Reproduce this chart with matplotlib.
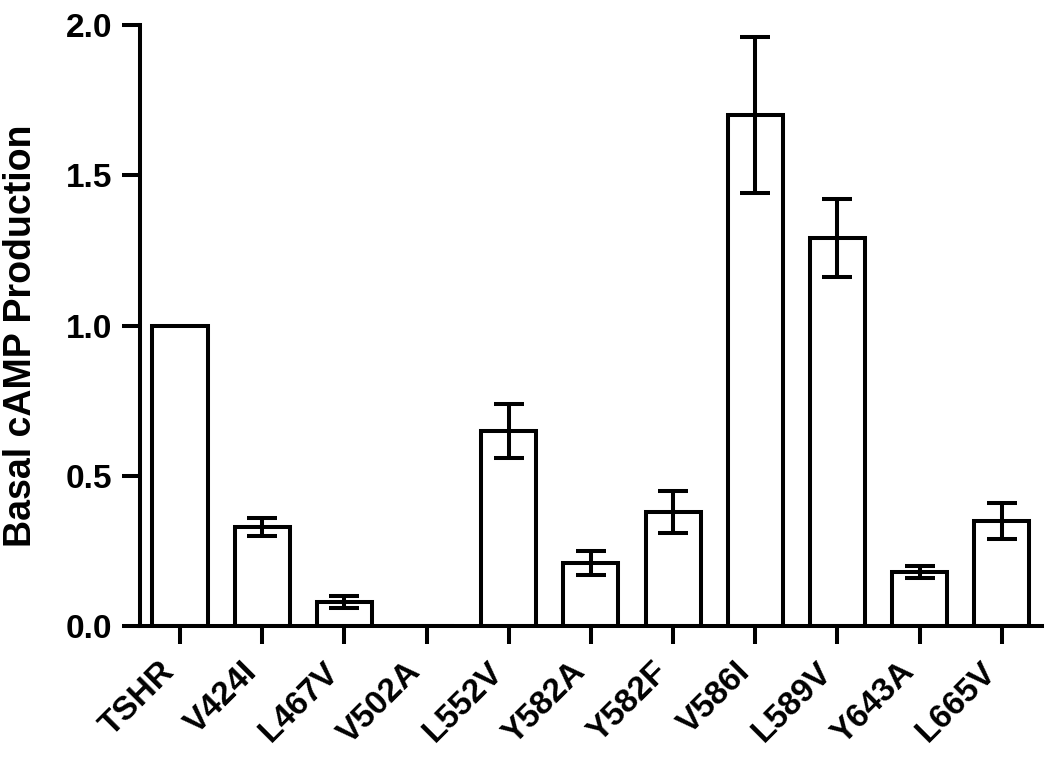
import matplotlib
matplotlib.use('Agg')
import matplotlib.pyplot as plt
from matplotlib.transforms import ScaledTranslation

mutants = ['TSHR', 'V424I', 'L467V', 'V502A', 'L552V', 'Y582A',
           'Y582F', 'V586I', 'L589V', 'Y643A', 'L665V']
basal = [1.00, 0.33, 0.08, 0.0, 0.65, 0.21, 0.38, 1.70, 1.29, 0.18, 0.35]
sem = [0.0, 0.03, 0.02, 0.0, 0.09, 0.04, 0.07, 0.26, 0.13, 0.02, 0.06]

plt.rcParams['font.family'] = ['Liberation Sans', 'DejaVu Sans']
plt.rcParams['font.weight'] = 'bold'

LW = 2.9


def make_graph():
    fig = plt.figure(figsize=(10.5, 7.65), dpi=100)
    ax = fig.add_axes([0.1333, 0.1817, 0.8591, 0.7856])
    x = range(len(mutants))
    ax.bar(x, basal, width=0.67, color='white', edgecolor='black',
           linewidth=LW, zorder=2)
    err_idx = [i for i in x if sem[i] > 0]
    ax.errorbar(err_idx, [basal[i] for i in err_idx],
                yerr=[sem[i] for i in err_idx], fmt='none', ecolor='black',
                elinewidth=LW, capsize=11, capthick=LW, zorder=3)
    ax.set_xlim(-0.487, 10.49)
    ax.set_ylim(0, 2.0)
    ax.set_yticks([0, 0.5, 1.0, 1.5, 2.0])
    ax.set_yticklabels(['0.0', '0.5', '1.0', '1.5', '2.0'])
    ax.set_xticks(list(x))
    ax.set_xticklabels(mutants, rotation=45, ha='right', va='center',
                       rotation_mode='anchor')
    ax.tick_params(axis='both', which='major', length=13, width=LW,
                   labelsize=24, direction='out', pad=7)
    ax.tick_params(axis='x', pad=18)
    # nudge rotated labels left a bit, like the original
    shift = ScaledTranslation(-0.1, 0.02, fig.dpi_scale_trans)
    for lab in ax.get_xticklabels():
        lab.set_transform(lab.get_transform() + shift)
    for side in ['top', 'right']:
        ax.spines[side].set_visible(False)
    for side in ['left', 'bottom']:
        ax.spines[side].set_linewidth(LW)
    ax.set_ylabel('Basal cAMP Production', fontsize=27, fontweight='bold')
    ax.yaxis.set_label_coords(-0.112, 0.4825)
    fig.savefig('out.png', dpi=100)


if __name__ == '__main__':
    make_graph()
